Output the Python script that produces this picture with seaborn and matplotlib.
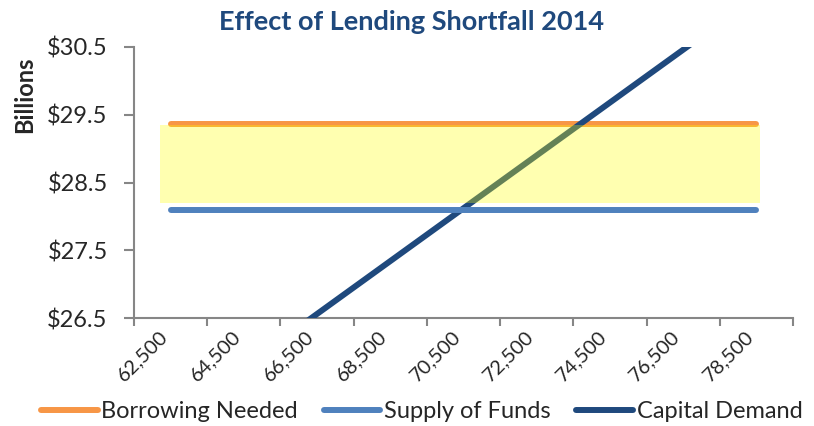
import matplotlib
matplotlib.use("Agg")
import matplotlib.pyplot as plt
import seaborn as sns
import numpy as np
from matplotlib.ticker import FuncFormatter, FixedLocator

# data (billions of dollars)
categories = ["62,500", "64,500", "66,500", "68,500", "70,500",
              "72,500", "74,500", "76,500", "78,500"]
borrowing_needed = [29.37] * 9
supply_of_funds = [28.09] * 9
capital_demand = [25.00, 25.78, 26.56, 27.34, 28.12, 28.90, 29.68, 30.46, 31.24]
shortfall_low = 28.20
shortfall_high = 29.35

sns.set_style("white")
plt.rcParams['font.family'] = ['Lato', 'DejaVu Sans']

x = np.arange(len(categories))

fig = plt.figure(figsize=(8.14, 4.26), dpi=100)
ax = fig.add_axes([134 / 814, 1 - 318 / 426, (793 - 134) / 814, (318 - 47) / 426])

lw = 4.3
sns.lineplot(x=x, y=borrowing_needed, color="#F79646", linewidth=lw, ax=ax,
             label="Borrowing Needed", solid_capstyle="round", zorder=2)
sns.lineplot(x=x, y=capital_demand, color="#1F497D", linewidth=lw, ax=ax,
             label="Capital Demand", solid_capstyle="round", zorder=3)
# shortfall band, semi-transparent over the lines
ax.fill_between([x[0] - 0.15, x[-1] + 0.05], shortfall_low, shortfall_high,
                color="#FFFF00", alpha=0.31, linewidth=0, zorder=4)
sns.lineplot(x=x, y=supply_of_funds, color="#4F81BD", linewidth=lw, ax=ax,
             label="Supply of Funds", solid_capstyle="round", zorder=5)

ax.set_xlim(-0.5, len(categories) - 0.5)
ax.set_ylim(26.5, 30.5)
ax.set_yticks([26.5, 27.5, 28.5, 29.5, 30.5])
ax.yaxis.set_major_formatter(FuncFormatter(lambda v, p: f"${v:.1f}"))
ax.set_xticks(x)
ax.set_xticklabels(categories, rotation=45, ha="right", fontsize=14.5)
ax.xaxis.set_minor_locator(FixedLocator(np.arange(-0.5, len(categories), 1.0)))

ax.tick_params(axis="x", which="major", length=0, pad=7)
ax.tick_params(axis="x", which="minor", length=6, width=1.5, color="#868686",
               direction="out", bottom=True)
ax.tick_params(axis="y", length=7, width=1.5, color="#868686", direction="out",
               labelsize=17, pad=12, left=True)

for side in ["top", "right"]:
    ax.spines[side].set_visible(False)
for side in ["left", "bottom"]:
    ax.spines[side].set_color("#868686")
    ax.spines[side].set_linewidth(1.5)

ax.set_xlabel("")
ax.set_ylabel("")
fig.text(0.03, 1 - 95 / 426, "Billions", rotation=90, ha="center", va="center",
         fontsize=17, fontweight="bold")
fig.suptitle("Effect of Lending Shortfall 2014", x=0.506, y=1 - 22 / 426,
             va="center", fontsize=19.5, fontweight="bold", color="#1F497D")

handles, labels = ax.get_legend_handles_labels()
order = ["Borrowing Needed", "Supply of Funds", "Capital Demand"]
hmap = dict(zip(labels, handles))
ax.legend([hmap[k] for k in order], order, loc="center", ncol=3,
          bbox_to_anchor=(0.518, 1 - 412 / 426), bbox_transform=fig.transFigure,
          frameon=False, fontsize=17, handlelength=2.4, handletextpad=0.15,
          columnspacing=1.1)

fig.savefig("out.png", dpi=100)
